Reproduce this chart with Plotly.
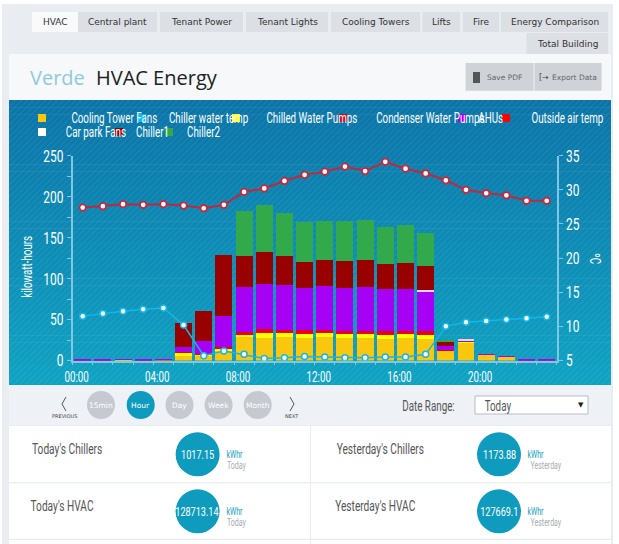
import plotly.graph_objects as go

W, H = 619, 544
hours = list(range(24))
x_tick_labels = ["00:00", "04:00", "08:00", "12:00", "16:00", "20:00"]
y_ticks = [0, 50, 100, 150, 200, 250]
y2_ticks = [5, 10, 15, 20, 25, 30, 35]

cooling_tower_fans = [0, 0, 0.8, 0, 0.6, 5, 5.5, 11, 29.7, 28, 28.5, 27, 28.5, 27, 27, 26.5, 27, 26.5, 12, 22.5, 8, 5, 0, 0]
chilled_water_pumps = [0, 0, 0.3, 0, 0.3, 5, 2.5, 4, 1.5, 6, 5, 5, 5, 5, 5, 5, 5, 5, 0.5, 1, 0, 0, 0, 0]
condenser_water_pumps = [0.5, 0.5, 0.3, 0.5, 0.3, 0.3, 0.5, 1.5, 3.2, 5, 4, 5, 3.5, 4.5, 4.5, 4, 4.5, 4, 0.5, 0, 0, 0, 0.5, 0.5]
ahus = [1, 1, 0.3, 1, 0.3, 6.5, 15, 37.5, 55, 54, 55, 51, 53.5, 52, 53, 51.5, 51, 49.5, 4.5, 1.5, 0.3, 0.5, 1, 1]
car_park_fans = [0, 0, 0, 0, 0, 0, 0, 0, 0, 0, 0, 0, 0, 0, 0, 0, 0, 1, 0, 0.5, 0, 0, 0, 0]
chiller1 = [0, 0, 0, 0, 0, 28.5, 37, 75, 38.6, 40, 35, 32, 32, 32.5, 33, 31, 31.5, 29.5, 4.5, 0, 0, 0, 0, 0]
chiller2 = [0, 0, 0, 0, 0, 0, 0, 0, 55, 56.5, 53, 48.5, 48, 49, 49.5, 45, 47, 40.5, 2.5, 0, 0, 0, 0, 0]
chiller_water_temp = [11.5, 11.9, 12.2, 12.5, 12.7, 10.2, 5.7, 6.4, 5.9, 5.3, 5.4, 5.6, 5.5, 5.4, 5.4, 5.5, 5.5, 5.9, 10, 10.6, 10.8, 11, 11.2, 11.4]
outside_air_temp = [27.4, 27.6, 27.9, 27.8, 27.9, 27.7, 27.3, 27.8, 29.7, 30.2, 31.3, 32.2, 32.66, 33.4, 32.75, 34.1, 33.1, 32.4, 31.4, 30, 29.5, 29.2, 28.4, 28.4]

tabs = [("HVAC", 32, 78, 12, 32), ("Central plant", 78, 157, 12, 32), ("Tenant Power", 160, 243, 12, 32),
        ("Tenant Lights", 246, 328, 12, 32), ("Cooling Towers", 331, 420, 12, 32), ("Lifts", 422.5, 460, 12, 32),
        ("Fire", 463, 499, 12, 32), ("Energy Comparison", 501, 608, 12, 32), ("Total Building", 526.5, 608, 33, 54)]
legend_items = [("Cooling Tower Fans", "#f9c80e", 38, 52.6, 118), ("Chiller water temp", "#00bfff", 138, 152, 118),
                ("Chilled Water Pumps", "#ffff00", 232, 247, 118), ("Condenser Water Pumps", "#e60012", 339, 353, 118),
                ("AHUs", "#a600f5", 458, 473, 118), ("Outside air temp", "#ff0000", 502, 516, 118),
                ("Car park Fans", "#ffffff", 38, 52.6, 132), ("Chiller1", "#990000", 115, 128.5, 132),
                ("Chiller2", "#32a94a", 165, 180, 132)]
periods = [("15min", 101), ("Hour", 140.7), ("Day", 179.5), ("Week", 218.6), ("Month", 257.7)]
stats = [("Today's Chillers", "1017.15", "Today", 16.6, 197.6, 223, 0),
         ("Yesterday's Chillers", "1173.88", "Yesterday", 318, 499, 524, 0),
         ("Today's HVAC", "128713.14", "Today", 16.6, 197.6, 223, 57),
         ("Yesterday's HVAC", "127669.1", "Yesterday", 318, 499, 524, 57)]

NARROW = "Roboto"
fx = lambda x: x / W
fy = lambda y: 1 - y / H
shapes, annos = [], []

def rect(x0, y0, x1, y1, fill, line=None):
    shapes.append(dict(type="rect", xref="paper", yref="paper", x0=fx(x0), x1=fx(x1), y0=fy(y0), y1=fy(y1),
                       fillcolor=fill, line=dict(width=1 if line else 0, color=line or "rgba(0,0,0,0)"), layer="below"))

def circle(cx, cy, r, fill):
    shapes.append(dict(type="circle", xref="paper", yref="paper", x0=fx(cx - r), x1=fx(cx + r), y0=fy(cy - r), y1=fy(cy + r),
                       fillcolor=fill, line=dict(width=0), layer="below"))

def path(pts, color, width=1):
    d = "M " + " L ".join(f"{fx(a):.5f} {fy(b):.5f}" for a, b in pts)
    shapes.append(dict(type="path", xref="paper", yref="paper", path=d, line=dict(color=color, width=width), layer="below"))

def text(x, y, s, size, color, font="DejaVu Sans", anchor="left", angle=0):
    annos.append(dict(x=fx(x), y=fy(y), xref="paper", yref="paper", text=s, showarrow=False, xanchor=anchor, yanchor="middle",
                      font=dict(size=size, color=color, family=font), textangle=angle, borderpad=0, borderwidth=0))

# page
rect(2, 4, 613, 544, "#e9ecf1")
for label, x0, x1, y0, y1 in tabs:
    rect(x0, y0, x1, y1, "#f8fafb" if label == "HVAC" else "#dcdfe4")
    text((x0 + x1) / 2, (y0 + y1) / 2, label, 9, "#333333", anchor="center")

# heading
rect(9, 54, 611, 100, "#f6f8fa")
text(30, 78, "Verde", 20, "#8fcbd9", font="Open Sans")
text(96, 78, "HVAC Energy", 20, "#222222", font="Open Sans")
rect(465.6, 63, 533.6, 90.7, "#cfd3d8")
rect(534.4, 63, 601.6, 90.7, "#cfd3d8")
rect(473, 72, 480, 83, "#555555")
text(486.5, 77.5, "Save PDF", 7.5, "#666666")
text(539, 77.5, "[→", 8, "#444444")
text(551.5, 77.5, "Export Data", 7.5, "#666666", anchor="left")

# chart panel gradient and stripes
top, bottom = 100, 385
n = 40
for i in range(n):
    t = i / (n - 1)
    c = (round(10 + 4 * t), round(116 + 46 * t), round(168 + 26 * t))
    rect(9, top + (bottom - top) * i / n, 611, top + (bottom - top) * (i + 1) / n + 0.5, f"rgb{c}")
segs = []
lx, rx = 9, 611
span = bottom - top
s = lx + 1
while s < rx + span:
    x0, y0 = s - span, bottom
    x1, y1 = s, top
    if x0 < lx:
        y0 = bottom - (lx - x0)
        x0 = lx
    if x1 > rx:
        y1 = top + (x1 - rx)
        x1 = rx
    segs.append(f"M {fx(x0):.5f} {fy(y0):.5f} L {fx(x1):.5f} {fy(y1):.5f}")
    s += 6
shapes.append(dict(type="path", xref="paper", yref="paper", path=" ".join(segs),
                   line=dict(color="rgba(255,255,255,0.05)", width=2), layer="below"))

for label, col, sx, tx, y in legend_items:
    rect(sx, y - 4, sx + 8, y + 4, col)
    text(tx, y, label, 14, "#ffffff", font=NARROW)

text(27, 267, "kilowatt-hours", 14, "#ffffff", font=NARROW, anchor="center", angle=-90)
text(595, 258, "ºC", 14, "#ffffff", font=NARROW, anchor="center", angle=90)

# controls
rect(9, 385, 611, 425, "#eef1f5")
for label, cx in periods:
    on = label == "Hour"
    circle(cx, 405, 14, "#0e9bbd" if on else "#c6cad0")
    text(cx, 405, label, 7.5, "#ffffff", anchor="center")
path([(66, 397), (62, 404), (66, 411)], "#555555")
path([(290, 397), (294, 404), (290, 411)], "#555555")
text(64, 415.7, "PREVIOUS", 5, "#444444", anchor="center")
text(292, 415.7, "NEXT", 5, "#444444", anchor="center")
text(465.6, 406, "Date Range:", 14, "#555555", font=NARROW, anchor="right")
rect(475, 396, 588, 414, "#ffffff", "#b8bcc2")
text(479, 405.5, "Today", 14, "#555555", font=NARROW)
text(581, 405, "▼", 7, "#222222", anchor="center")

# stats
rect(9, 426, 611, 482, "#ffffff")
rect(9, 483.3, 611, 538.7, "#ffffff")
rect(9, 540, 611, 544, "#ffffff")
rect(310, 426, 311, 544, "#e9ecf1")
for label, val, when, lx_, cx, kx, dy in stats:
    text(lx_, 449 + dy, label, 14.5, "#555555", font=NARROW)
    circle(cx, 454.3 + dy, 22, "#0e9bbd")
    text(cx, 454.3 + dy, val, 13, "#ffffff", font=NARROW, anchor="center")
    text(kx, 454 + dy, "kWhr", 10, "#1a9cbf", font=NARROW)
    text(kx, 465 + dy, when, 10, "#a8acb2", font=NARROW)

fig = go.Figure()
AX = "#7fc8e0"
for name, vals, col in [("Cooling Tower Fans", cooling_tower_fans, "#f9c80e"),
                        ("Chilled Water Pumps", chilled_water_pumps, "#ffff00"),
                        ("Condenser Water Pumps", condenser_water_pumps, "#e60012"),
                        ("AHUs", ahus, "#a600f5"),
                        ("Car park Fans", car_park_fans, "#e8d8f8"),
                        ("Chiller1", chiller1, "#990000"),
                        ("Chiller2", chiller2, "#32a94a")]:
    fig.add_bar(x=hours, y=vals, name=name, marker=dict(color=col, line=dict(width=0)))
fig.add_scatter(x=hours, y=chiller_water_temp, name="Chiller water temp", yaxis="y2", mode="lines+markers",
                line=dict(color="#12b8e8", width=1.5), marker=dict(color="#ffffff", size=6, line=dict(color="#12b8e8", width=1.5)))
fig.add_scatter(x=hours, y=outside_air_temp, name="Outside air temp", yaxis="y2", mode="lines+markers",
                line=dict(color="#c0283c", width=2), marker=dict(color="#ffffff", size=6.5, line=dict(color="#c8283c", width=1.8)))

edges = [h - 0.5 for h in hours] + [23.5]
edge_text = [x_tick_labels[i // 4] if i % 4 == 0 and i // 4 < len(x_tick_labels) else "" for i in range(25)]
fig.update_layout(
    width=W, height=H, margin=dict(l=0, r=0, t=0, b=0, autoexpand=False), autosize=False,
    paper_bgcolor="#ffffff", plot_bgcolor="rgba(0,0,0,0)", showlegend=False,
    barmode="stack", bargap=0.16, shapes=shapes, annotations=annos,
    xaxis=dict(domain=[fx(72.6), fx(556.8)], range=[-0.5, 23.5], tickmode="array", tickvals=edges, ticktext=edge_text,
               ticks="outside", ticklen=3, tickcolor=AX, tickwidth=1, showgrid=False, zeroline=False, showline=True,
               linecolor=AX, linewidth=1.5, tickfont=dict(family=NARROW, size=14, color="#ffffff"), ticklabelshift=4,
               tickangle=0, automargin=False),
    yaxis=dict(domain=[fy(360.5), fy(155.7)], range=[0, 250], tickmode="array",
               tickvals=[v for t in y_ticks for v in (t, t + 25)][:-1],
               ticktext=[s_ for t in y_ticks for s_ in (str(t), "")][:-1],
               ticks="outside", ticklen=4, tickcolor=AX, showgrid=False, zeroline=False, showline=True,
               linecolor=AX, linewidth=1.5, tickfont=dict(family=NARROW, size=17, color="#ffffff"), automargin=False),
    yaxis2=dict(overlaying="y", side="right", anchor="x", range=[5, 35], tickmode="array", tickvals=y2_ticks,
                ticktext=[str(v) for v in y2_ticks], ticks="outside", ticklen=4, tickcolor=AX, showgrid=False,
                zeroline=False, showline=True, linecolor=AX, linewidth=1.5,
                tickfont=dict(family=NARROW, size=17, color="#ffffff"), automargin=False),
)
squeeze = """
document.body.style.margin='0';document.body.style.overflow='hidden';
function squeezeText(){document.querySelectorAll('svg text').forEach(function(t){
  if(t.hasAttribute('textLength'))return;
  if((t.style.fontFamily||'').indexOf('Roboto')<0)return;
  var l=t.getComputedTextLength();if(!l)return;
  t.setAttribute('lengthAdjust','spacingAndGlyphs');t.setAttribute('textLength',(l*0.7).toFixed(1));
});}
squeezeText();setTimeout(squeezeText,100);
"""
fig.write_html("out.html", config=dict(displayModeBar=False), post_script=squeeze)
